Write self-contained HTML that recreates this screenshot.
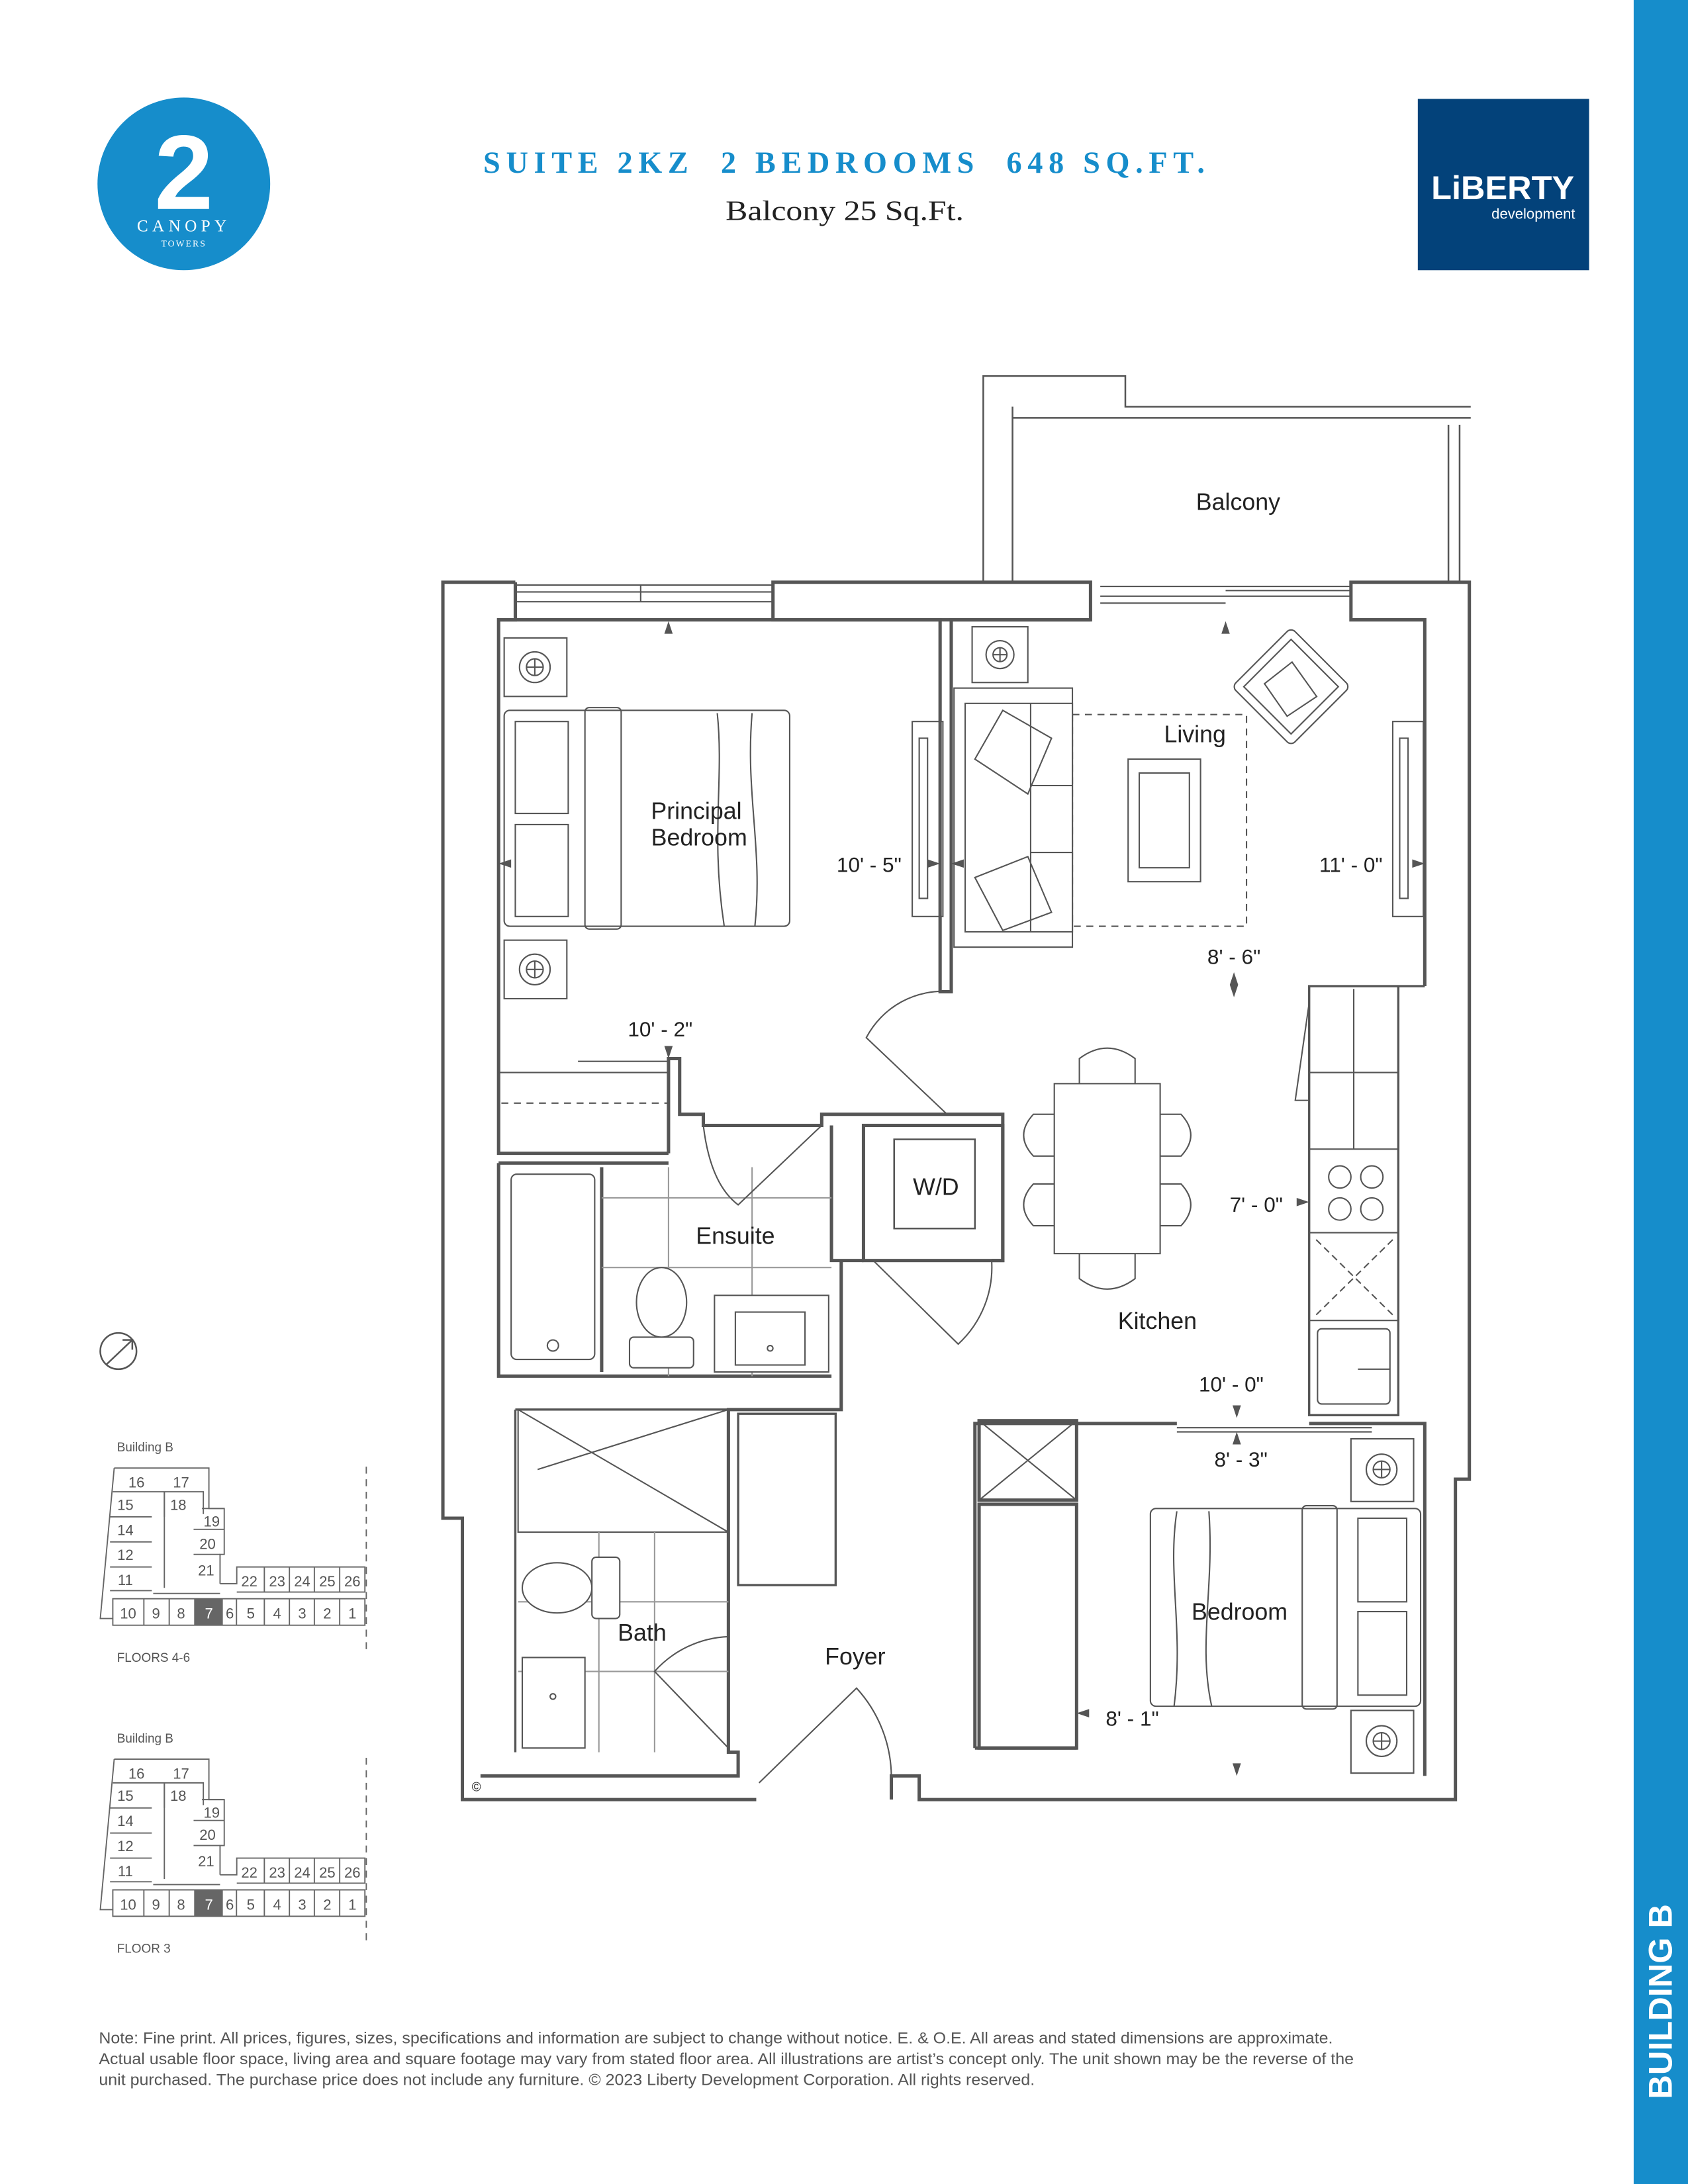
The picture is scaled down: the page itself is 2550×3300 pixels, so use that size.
<!DOCTYPE html>
<html><head><meta charset="utf-8"><style>
html,body{margin:0;padding:0;background:#fff}
svg{display:block}
</style></head><body>
<svg width="2550" height="3300" viewBox="0 0 1212 1568" preserveAspectRatio="none" xmlns="http://www.w3.org/2000/svg" font-family="Liberation Sans, sans-serif">
<rect width="1212" height="1568" fill="#fff"/>
<rect x="1173" y="0" width="39" height="1568" fill="#168dcb"/>
<text transform="translate(1192,1437) rotate(-90)" text-anchor="middle" dominant-baseline="central" fill="#fff" font-weight="bold" font-size="24">BUILDING B</text>
<circle cx="132" cy="132" r="62" fill="#168dcb"/>
<text x="132" y="150" text-anchor="middle" fill="#fff" font-weight="bold" font-size="76">2</text>
<text x="132" y="166" text-anchor="middle" fill="#fff" font-family="Liberation Serif, serif" font-size="12" letter-spacing="3">CANOPY</text>
<text x="132" y="177" text-anchor="middle" fill="#fff" font-family="Liberation Serif, serif" font-size="6.5" letter-spacing="1">TOWERS</text>
<text x="347" y="124" xml:space="preserve" textLength="518" lengthAdjust="spacing" fill="#168dcb" font-family="Liberation Serif, serif" font-weight="bold" font-size="22">SUITE 2KZ  2 BEDROOMS  648 SQ.FT.</text>
<text x="521" y="158" textLength="171" lengthAdjust="spacingAndGlyphs" fill="#222" font-family="Liberation Serif, serif" font-size="20">Balcony 25 Sq.Ft.</text>
<rect x="1018" y="71" width="123" height="123" fill="#03427a"/>
<text x="1079" y="143" text-anchor="middle" fill="#fff" font-weight="bold" font-size="24">LiBERTY</text>
<text x="1131" y="157" text-anchor="end" fill="#fff" font-size="10.5">development</text>

<g fill="none" stroke="#555" stroke-width="2.4">
<path d="M706,418 V270 H808 V292 H1056" stroke-width="1.2"/>
<path d="M727,418 V292 M727,300 H1056 M1040,305 V418 M1048,305 V418" stroke-width="1.2"/>
<path d="M370,418 H318 V1090 H332 V1292 H543"/>
<path d="M640,1292 V1275 H660 V1292 H1045 V1062 H1055 V418 H970 V445 H1023 V708"/>
<path d="M370,418 V445 H358 V828 H480"/>
<rect x="555" y="418" width="228" height="27"/>
<path d="M358,445 H675 V712 H683 V445 H783"/>
<path d="M370,420 H555 M370,425 H555 M370,432 H555 M460,420 V432 M790,421 H970 M790,428 H970 M790,433 H880 M880,424 H970" stroke-width="1"/>
<path d="M480,828 V760 H488 V800 H505 V808 H590 V800 H720 V905 H712 M597,808 V905 H604 V1012 H523 V1258 H530 V1275 H345 M604,905 H620"/>
<path d="M358,835 H480 M358,835 V988 H597 M432,838 V985"/>
<rect x="620" y="808" width="100" height="97"/>
<rect x="642" y="818" width="58" height="64" stroke-width="1.2"/>
<path d="M370,1012 H523 M370,1012 V1258" stroke-width="1.6"/>
<path d="M530,1015 H600 V1138 H530 Z" stroke-width="1.6"/>
<path d="M700,1255 V1022 H845 M940,1022 H1023 V1275 M700,1255 H773"/>
<rect x="703" y="1020" width="70" height="57"/>
<path d="M703,1020 L773,1077 M773,1020 L703,1077" stroke-width="1"/>
<rect x="703" y="1080" width="70" height="175"/>
<path d="M1023,708 H940 V1016 H1004 V708" stroke-width="1.6"/>
</g>
<g fill="none" stroke="#555" stroke-width="1">
<path d="M358,770 H480 M415,762 H480" />
<path d="M360,792 H480" stroke-dasharray="5,4"/>
<rect x="362" y="458" width="45" height="42"/><circle cx="384" cy="479" r="11"/><circle cx="384" cy="479" r="6"/><path d="M378,479H390M384,473V485"/>
<rect x="362" y="675" width="45" height="42"/><circle cx="384" cy="696" r="11"/><circle cx="384" cy="696" r="6"/><path d="M378,696H390M384,690V702"/>
<rect x="698" y="450" width="40" height="40"/><circle cx="718" cy="470" r="10"/><circle cx="718" cy="470" r="5"/><path d="M713,470H723M718,465V475"/>
<rect x="970" y="1033" width="45" height="45"/><circle cx="992" cy="1055" r="11"/><circle cx="992" cy="1055" r="6"/><path d="M986,1055H998M992,1049V1061"/>
<rect x="970" y="1228" width="45" height="45"/><circle cx="992" cy="1250" r="11"/><circle cx="992" cy="1250" r="6"/><path d="M986,1250H998M992,1244V1256"/>
<rect x="362" y="510" width="205" height="155" rx="4"/>
<rect x="420" y="508" width="26" height="159" rx="3"/>
<path d="M370,518 h38 v66 h-38 z M370,592 h38 v66 h-38 z"/>
<path d="M515,512 C520,560 510,600 520,665 M540,512 C535,570 548,610 542,665"/>
<rect x="655" y="518" width="22" height="140"/><rect x="660" y="530" width="6" height="115"/>
<rect x="1000" y="518" width="22" height="140"/><rect x="1005" y="530" width="6" height="115"/>
<rect x="685" y="494" width="85" height="186"/>
<rect x="693" y="505" width="77" height="164"/>
<path d="M740,505 V669 M740,564 H770 M740,612 H770"/>
<path d="M700,545 L720,510 L755,530 L738,570 Z M700,630 L738,615 L755,655 L720,668 Z"/>
<rect x="770" y="513" width="125" height="152" stroke-dasharray="5,4"/>
<rect x="810" y="545" width="52" height="88"/><rect x="818" y="555" width="36" height="68"/>
<g transform="rotate(45 927 493)"><rect x="897" y="463" width="60" height="60" rx="4"/><rect x="903" y="469" width="48" height="48"/><path d="M915,480 L945,485 L940,510 L912,505 Z"/></g>
<rect x="757" y="778" width="76" height="122"/>
<path d="M775,778 V760 Q795,745 815,760 V778 M775,900 V918 Q795,933 815,918 V900 M757,800 H742 Q728,815 742,830 H757 M757,850 H742 Q728,865 742,880 H757 M833,800 H848 Q862,815 848,830 H833 M833,850 H848 Q862,865 848,880 H833"/>
<path d="M940,770 H1004 M940,825 H1004 M940,885 H1004 M940,948 H1004 M972,710 V825"/>
<path d="M940,720 L930,790 L940,790"/>
<circle cx="962" cy="845" r="8"/><circle cx="985" cy="845" r="8"/><circle cx="962" cy="868" r="8"/><circle cx="985" cy="868" r="8"/>
<path d="M945,890 L1000,944 M1000,890 L945,944" stroke-dasharray="5,3"/>
<rect x="946" y="954" width="52" height="54" rx="3"/><path d="M975,983 H998"/>
<rect x="826" y="1083" width="194" height="142" rx="4"/>
<rect x="935" y="1081" width="25" height="146" rx="3"/>
<path d="M975,1090 h35 v60 h-35 z M975,1157 h35 v60 h-35 z"/>
<path d="M845,1085 C838,1130 850,1170 843,1225 M868,1085 C872,1140 860,1180 870,1225"/>
<rect x="367" y="843" width="60" height="133" rx="4"/><circle cx="397" cy="966" r="4"/>
<path d="M432,860 H597 M432,910 H597 M480,838 V988 M540,838 V988" stroke="#999"/>
<ellipse cx="475" cy="935" rx="18" ry="25" fill="#fff"/><rect x="452" y="960" width="46" height="22" rx="3" fill="#fff"/>
<rect x="513" y="930" width="82" height="55" fill="#fff"/><rect x="528" y="942" width="50" height="38"/><circle cx="553" cy="968" r="2"/>
<path d="M505,808 Q510,850 530,865 L590,808"/>
<path d="M372,1012 V1100 H523 M372,1012 L523,1100 M386,1055 L523,1012"/>
<path d="M430,1100 V1258 M470,1100 V1258 M372,1150 H523 M372,1200 H523" stroke="#999"/>
<ellipse cx="400" cy="1140" rx="25" ry="18" fill="#fff"/><rect x="425" y="1118" width="20" height="44" rx="3" fill="#fff"/>
<rect x="375" y="1190" width="45" height="65" fill="#fff"/><circle cx="397" cy="1218" r="2"/>
<path d="M683,712 A62,62 0 0 0 622,745 L680,800"/>
<path d="M627,905 L688,965 A75,75 0 0 0 712,905"/>
<path d="M523,1255 L470,1200 A75,75 0 0 1 523,1175"/>
<path d="M545,1280 L615,1212 A95,95 0 0 1 640,1275"/>
<path d="M845,1025 H985 M845,1028 H985"/>
</g>
<g fill="#555">
<path d="M480,446 l-3,9 h6z M358,620 l9,-3 v6z M675,620 l-9,-3 v6z M683,620 l9,-3 v6z M880,446 l-3,9 h6z M1023,620 l-9,-3 v6z M886,698 l-3,9 h6z M886,716 l-3,-9 h6z M480,760 l-3,-9 h6z M940,863 l-9,-3 v6z M888,1018 l-3,-9 h6z M888,1028 l-3,9 h6z M773,1230 l9,-3 v6z M888,1275 l-3,-9 h6z"/>
</g>
<g fill="#222" font-size="17">
<text x="500" y="588" text-anchor="middle">Principal</text>
<text x="502" y="607" text-anchor="middle">Bedroom</text>
<text x="624" y="626" text-anchor="middle" font-size="15">10' - 5"</text>
<text x="858" y="533" text-anchor="middle">Living</text>
<text x="970" y="626" text-anchor="middle" font-size="15">11' - 0"</text>
<text x="886" y="692" text-anchor="middle" font-size="15">8' - 6"</text>
<text x="474" y="744" text-anchor="middle" font-size="15">10' - 2"</text>
<text x="672" y="858" text-anchor="middle">W/D</text>
<text x="902" y="870" text-anchor="middle" font-size="15">7' - 0"</text>
<text x="528" y="893" text-anchor="middle">Ensuite</text>
<text x="831" y="954" text-anchor="middle">Kitchen</text>
<text x="884" y="999" text-anchor="middle" font-size="15">10' - 0"</text>
<text x="891" y="1053" text-anchor="middle" font-size="15">8' - 3"</text>
<text x="890" y="1163" text-anchor="middle">Bedroom</text>
<text x="461" y="1178" text-anchor="middle">Bath</text>
<text x="614" y="1195" text-anchor="middle">Foyer</text>
<text x="813" y="1239" text-anchor="middle" font-size="15">8' - 1"</text>
<text x="889" y="366" text-anchor="middle">Balcony</text>
<text x="342" y="1286" text-anchor="middle" font-size="9">©</text>
</g>
<g fill="none" stroke="#555" stroke-width="1.2"><circle cx="85" cy="970" r="13"/><path d="M76,980 L95,962 M88,962 H95 V969"/></g>

<g fill="#555" font-size="9"><text x="84" y="1042">Building B</text><text x="84" y="1193">FLOORS 4-6</text></g>
<g fill="none" stroke="#666" stroke-width="0.9">
<path d="M263,1053 V1185" stroke-dasharray="5,4"/>
<path d="M82,1054 H150 V1083 H161 V1098 M161,1098 V1116 H158 V1137 M82,1054 L72,1162 H81"/>
<path d="M81,1071 H118 V1089 M79,1089 H109 M79,1107 H109 M79,1125 H109 M79,1142 H109 M115,1071 H146 V1087 M145,1083 H161 M139,1098 H161 M139,1116 H158 M158,1137 H170 V1125 H262 V1143 H170 M189.8,1125 V1143 M207.8,1125 V1143 M225.7,1125 V1143 M243.9,1125 V1143"/>
<path d="M81,1147.8 H262 V1166.8 H81 Z M103.3,1147.8 V1166.8 M121.5,1147.8 V1166.8 M169.8,1147.8 V1166.8 M189.8,1147.8 V1166.8 M207.8,1147.8 V1166.8 M225.7,1147.8 V1166.8 M243.9,1147.8 V1166.8"/>
<path d="M118,1071 V1140 M110,1144 H158"/>
</g>
<rect x="139.4" y="1147.8" width="20.6" height="19" fill="#666"/>
<g fill="#555" font-size="10.5" text-anchor="middle">
<text x="98" y="1068">16</text><text x="130" y="1068">17</text><text x="90" y="1084">15</text><text x="128" y="1084">18</text><text x="152" y="1096">19</text><text x="90" y="1102">14</text><text x="149" y="1112">20</text><text x="90" y="1120">12</text><text x="148" y="1131">21</text><text x="90" y="1138">11</text>
<text x="179" y="1139">22</text><text x="199" y="1139">23</text><text x="217" y="1139">24</text><text x="235" y="1139">25</text><text x="253" y="1139">26</text>
<text x="92" y="1162">10</text><text x="112" y="1162">9</text><text x="130" y="1162">8</text><text x="150" y="1162" fill="#fff">7</text><text x="165" y="1162">6</text><text x="180" y="1162">5</text><text x="199" y="1162">4</text><text x="217" y="1162">3</text><text x="235" y="1162">2</text><text x="253" y="1162">1</text>
</g>
<g transform="translate(0,209)">
<g fill="#555" font-size="9"><text x="84" y="1042">Building B</text><text x="84" y="1193">FLOOR 3</text></g>
<g fill="none" stroke="#666" stroke-width="0.9">
<path d="M263,1053 V1185" stroke-dasharray="5,4"/>
<path d="M82,1054 H150 V1083 H161 V1098 M161,1098 V1116 H158 V1137 M82,1054 L72,1162 H81"/>
<path d="M81,1071 H118 V1089 M79,1089 H109 M79,1107 H109 M79,1125 H109 M79,1142 H109 M115,1071 H146 V1087 M145,1083 H161 M139,1098 H161 M139,1116 H158 M158,1137 H170 V1125 H262 V1143 H170 M189.8,1125 V1143 M207.8,1125 V1143 M225.7,1125 V1143 M243.9,1125 V1143"/>
<path d="M81,1147.8 H262 V1166.8 H81 Z M103.3,1147.8 V1166.8 M121.5,1147.8 V1166.8 M169.8,1147.8 V1166.8 M189.8,1147.8 V1166.8 M207.8,1147.8 V1166.8 M225.7,1147.8 V1166.8 M243.9,1147.8 V1166.8"/>
<path d="M118,1071 V1140 M110,1144 H158"/>
</g>
<rect x="139.4" y="1147.8" width="20.6" height="19" fill="#666"/>
<g fill="#555" font-size="10.5" text-anchor="middle">
<text x="98" y="1068">16</text><text x="130" y="1068">17</text><text x="90" y="1084">15</text><text x="128" y="1084">18</text><text x="152" y="1096">19</text><text x="90" y="1102">14</text><text x="149" y="1112">20</text><text x="90" y="1120">12</text><text x="148" y="1131">21</text><text x="90" y="1138">11</text>
<text x="179" y="1139">22</text><text x="199" y="1139">23</text><text x="217" y="1139">24</text><text x="235" y="1139">25</text><text x="253" y="1139">26</text>
<text x="92" y="1162">10</text><text x="112" y="1162">9</text><text x="130" y="1162">8</text><text x="150" y="1162" fill="#fff">7</text><text x="165" y="1162">6</text><text x="180" y="1162">5</text><text x="199" y="1162">4</text><text x="217" y="1162">3</text><text x="235" y="1162">2</text><text x="253" y="1162">1</text>
</g>
</g>
<g fill="#555" font-size="11.4">
<text x="71" y="1467" textLength="886" lengthAdjust="spacingAndGlyphs">Note: Fine print. All prices, figures, sizes, specifications and information are subject to change without notice. E. &amp; O.E. All areas and stated dimensions are approximate.</text>
<text x="71" y="1482" textLength="901" lengthAdjust="spacingAndGlyphs">Actual usable floor space, living area and square footage may vary from stated floor area. All illustrations are artist’s concept only. The unit shown may be the reverse of the</text>
<text x="71" y="1497" textLength="672" lengthAdjust="spacingAndGlyphs">unit purchased. The purchase price does not include any furniture. © 2023 Liberty Development Corporation. All rights reserved.</text>
</g>
</svg>
</body></html>
